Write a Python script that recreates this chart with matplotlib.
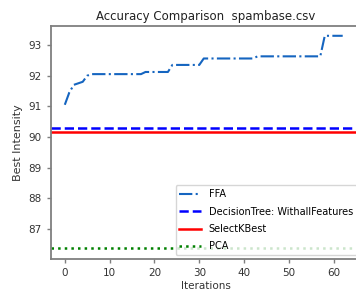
import matplotlib
matplotlib.use("Agg")
import matplotlib.pyplot as plt
from matplotlib import font_manager
import numpy as np

iterations = list(range(63))
ffa = ([91.05, 91.45, 91.70, 91.75, 91.80, 92.00]
       + [92.05] * 12
       + [92.12] * 6
       + [92.35] * 7
       + [92.56] * 12
       + [92.63] * 15
       + [93.30] * 5)
decision_tree = 90.30
select_kbest = 90.15
pca = 86.38

names = {f.name for f in font_manager.fontManager.ttflist}
cond = [f.fname for f in font_manager.fontManager.ttflist if "Condensed" in f.fname and "DejaVuSans" in f.fname]
print(sorted(names))
print(cond)

fig = plt.figure(figsize=(3.56, 2.92), dpi=100)
ax = fig.add_axes([0.143, 0.113, 0.87, 0.798])

ax.plot(iterations, ffa, color="#1565c0", linestyle="-.", linewidth=1.5, label="FFA")
ax.axhline(decision_tree, color="blue", linestyle="--", linewidth=1.8, label="DecisionTree: WithallFeatures")
ax.axhline(select_kbest, color="red", linestyle="-", linewidth=1.8, label="SelectKBest")
ax.axhline(pca, color="green", linestyle=":", linewidth=1.8, label="PCA")

ax.set_xlim(-3.1, 66.0)
ax.set_ylim(86.02, 93.62)
ax.set_xticks([0, 10, 20, 30, 40, 50, 60])
ax.set_yticks([87, 88, 89, 90, 91, 92, 93])

for s in ax.spines.values():
    s.set_color("#7f7f7f")
    s.set_linewidth(1.3)
ax.spines["right"].set_visible(False)
ax.tick_params(colors="#333333", labelsize=7.5, length=3, width=1, direction="out")
ax.tick_params(axis="both", color="#7f7f7f")

ax.set_title("Accuracy Comparison  spambase.csv", fontsize=8.5, color="#222222", pad=4)
ax.set_xlabel("Iterations", fontsize=7.5, color="#333333", labelpad=2)
ax.set_ylabel("Best Intensity", fontsize=8, color="#333333", labelpad=4)

leg = ax.legend(loc="lower right", fontsize=7, frameon=True, borderaxespad=0.4,
                handlelength=2.2, labelspacing=0.75, borderpad=0.4)
leg.get_frame().set_edgecolor("#cccccc")

fig.savefig("out.png", dpi=100)
